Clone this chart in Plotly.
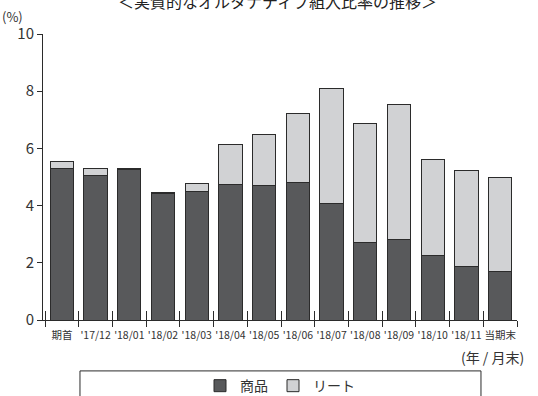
import plotly.graph_objects as go

categories = ["期首", "'17/12", "'18/01", "'18/02", "'18/03", "'18/04", "'18/05",
              "'18/06", "'18/07", "'18/08", "'18/09", "'18/10", "'18/11", "当期末"]
commodity = [5.28, 5.05, 5.27, 4.43, 4.49, 4.74, 4.72, 4.80, 4.08, 2.70, 2.81, 2.26, 1.86, 1.68]
reit = [0.25, 0.25, 0.03, 0.02, 0.27, 1.38, 1.78, 2.43, 4.01, 4.18, 4.72, 3.36, 3.36, 3.31]
series_names = ["商品", "リート"]
y_ticks = [0, 2, 4, 6, 8, 10]

FONT = "Noto Sans CJK JP"
TXT = "#333333"
LINE = "#2b2b2b"

fig = go.Figure()
fig.add_trace(go.Bar(x=categories, y=commodity, name=series_names[0],
                     marker=dict(color="#58595b", line=dict(color=LINE, width=1))))
fig.add_trace(go.Bar(x=categories, y=reit, name=series_names[1],
                     marker=dict(color="#d1d2d4", line=dict(color=LINE, width=1))))

n = len(categories)
boundaries = [i - 0.5 for i in range(n + 1)]

fig.update_layout(
    barmode="stack",
    bargap=0.31,
    width=538, height=396,
    margin=dict(l=43, r=21, t=34, b=76, autoexpand=False),
    paper_bgcolor="white", plot_bgcolor="white",
    font=dict(family=FONT, color=TXT),
    showlegend=True,
    legend=dict(orientation="h", x=0.5, xanchor="center", y=-0.231, yanchor="middle",
                font=dict(size=14, family=FONT, color=TXT), bgcolor="rgba(0,0,0,0)",
                itemwidth=30, traceorder="normal"),
    xaxis=dict(type="category", categoryorder="array", categoryarray=categories,
               range=[-0.56, n - 0.5], showline=True, linecolor=LINE, linewidth=1,
               ticks="outside", ticklen=6, tickcolor=LINE, tickson="boundaries",
               tickangle=0, automargin=False, ticklabelstandoff=5,
               tickfont=dict(size=10.5, family=FONT, color=TXT),
               showgrid=False, zeroline=False),
    xaxis2=dict(overlaying="x", anchor="y", side="bottom", range=[-0.56, n - 0.5],
                tickmode="array", tickvals=boundaries, ticks="inside", ticklen=9,
                tickcolor=LINE, showticklabels=False, showgrid=False, zeroline=False,
                showline=False, automargin=False),
    yaxis=dict(range=[0, 10], tickvals=y_ticks, showline=True, linecolor=LINE, linewidth=1,
               ticks="outside", ticklen=5, tickcolor=LINE, showgrid=False, zeroline=False,
               automargin=False,
               tickfont=dict(size=15, family=FONT, color=TXT)),
)

# invisible trace to activate xaxis2 (inner half of the category ticks)
fig.add_trace(go.Scatter(x=[boundaries[0]], y=[0], xaxis="x2", mode="markers",
                         marker=dict(opacity=0), showlegend=False, hoverinfo="skip"))

fig.add_shape(type="rect", xref="paper", yref="paper", x0=0.078, x1=0.924,
              y0=-0.178, y1=-0.30, line=dict(color=LINE, width=1), fillcolor="rgba(0,0,0,0)")

fig.add_annotation(text="(%)", xref="paper", yref="paper", x=-0.065, y=1.06,
                   xanchor="center", yanchor="middle", showarrow=False,
                   font=dict(size=13, family=FONT, color=TXT))
fig.add_annotation(text="(年 / 月末)", xref="paper", yref="paper", x=1.02, y=-0.13,
                   xanchor="right", yanchor="middle", showarrow=False,
                   font=dict(size=14, family=FONT, color=TXT))
fig.add_annotation(text="＜実質的なオルタナティブ組入比率の推移＞", xref="paper", yref="paper",
                   x=0.495, y=1.115, xanchor="center", yanchor="middle", showarrow=False,
                   font=dict(size=16, family=FONT, color="#222222"))

fig.write_html("out.html")
